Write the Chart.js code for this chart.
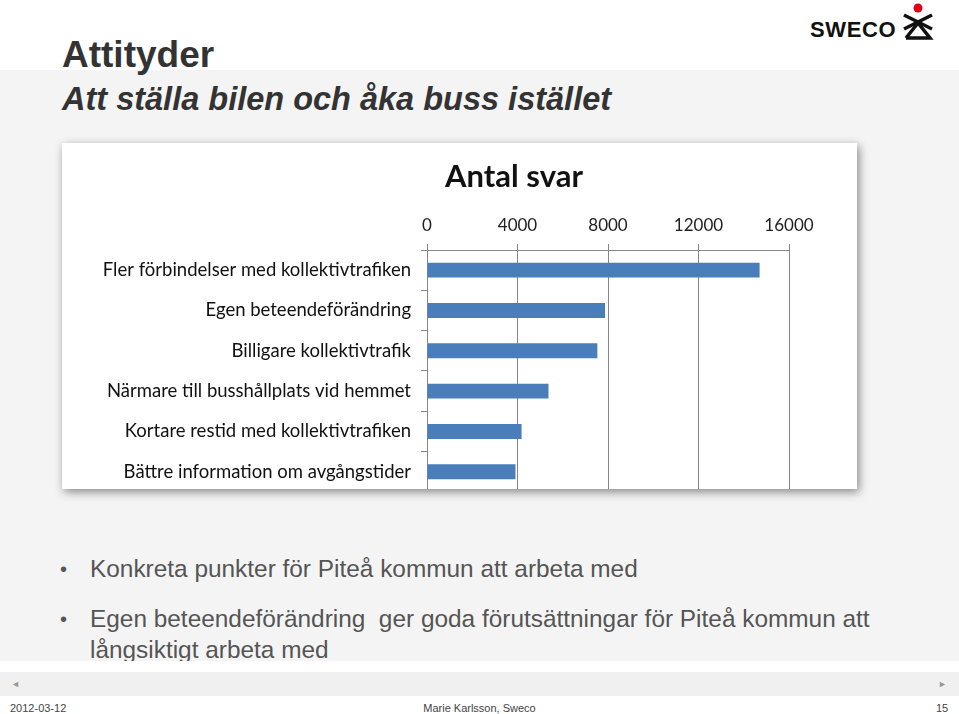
<!DOCTYPE html>
<html>
<head>
<meta charset="utf-8">
<script src="https://cdn.jsdelivr.net/npm/chart.js@4.4.1/dist/chart.umd.min.js"></script>
<style>
  html, body { margin: 0; padding: 0; }
  body { width: 959px; height: 714px; position: relative; overflow: hidden; background: #ffffff; font-family: "Liberation Sans", Arial, sans-serif; }
  .abs { position: absolute; white-space: nowrap; }
  #gray { left: 0; top: 70px; width: 959px; height: 591px; background: #f4f4f4; }
  #nav { left: 0; top: 672px; width: 959px; height: 24px; background: #f0f0f0; }
  #title { left: 62px; top: 36px; font-size: 37px; line-height: 37px; font-weight: bold; color: #333333; }
  #subtitle { left: 62px; top: 83px; font-size: 32.5px; line-height: 32px; font-weight: bold; font-style: italic; color: #333333; }
  #box { left: 62px; top: 143px; width: 795px; height: 346px; background: #ffffff; box-shadow: 2px 3px 9px rgba(0,0,0,0.45); overflow: hidden; }
  #box canvas { position: absolute; left: 0; top: 0; }
  #ctitle { left: 364px; top: 160px; width: 300px; text-align: center; font-family: Lato, sans-serif; font-weight: bold; font-size: 31px; line-height: 31px; color: #111111; }
  .bul { font-size: 24.4px; line-height: 24px; color: #555555; }
  .dot { font-size: 20px; line-height: 24px; color: #555555; }
  .foot { font-size: 11px; line-height: 11px; color: #444444; top: 703px; }
  .arrow { font-size: 9px; line-height: 9px; color: #999999; top: 680px; }
  #logo { left: 810px; top: 19px; font-size: 22px; line-height: 22px; font-weight: bold; color: #111111; letter-spacing: 0.6px; }
</style>
</head>
<body>
<div class="abs" id="gray"></div>
<div class="abs" id="title">Attityder</div>
<div class="abs" id="subtitle">Att ställa bilen och åka buss istället</div>
<div class="abs" id="logo">SWECO</div>
<svg class="abs" style="left:0;top:0" width="959" height="60">
  <circle cx="918" cy="8" r="4.5" fill="#e2001a"/>
  <line x1="904" y1="15" x2="932" y2="29" stroke="#111" stroke-width="3.5"/>
  <line x1="932" y1="15" x2="904" y2="29" stroke="#111" stroke-width="3.5"/>
  <polyline points="906,38 918,23 930,38 906,38" fill="none" stroke="#111" stroke-width="3.5" stroke-linejoin="miter"/>
</svg>
<div class="abs" id="box"><canvas id="c" width="795" height="370"></canvas></div>
<div class="abs" id="ctitle">Antal svar</div>
<div class="abs dot" style="left:60px;top:557px">•</div>
<div class="abs bul" style="left:90px;top:557px">Konkreta punkter för Piteå kommun att arbeta med</div>
<div class="abs dot" style="left:60px;top:607px">•</div>
<div class="abs bul" style="left:90px;top:607px">Egen beteendeförändring&nbsp; ger goda förutsättningar för Piteå kommun att</div>
<div class="abs bul" style="left:90px;top:638px">långsiktigt arbeta med</div>
<div class="abs" style="left:0;top:661px;width:959px;height:53px;background:#ffffff"></div>
<div class="abs" id="nav"></div>
<div class="abs arrow" style="left:11px">◄</div>
<div class="abs arrow" style="left:938px">►</div>
<div class="abs foot" style="left:10px">2012-03-12</div>
<div class="abs foot" style="left:0;width:959px;text-align:center">Marie Karlsson, Sweco</div>
<div class="abs foot" style="left:936px">15</div>

<script>
const categories = [
  "Fler förbindelser med kollektivtrafiken",
  "Egen beteendeförändring",
  "Billigare kollektivtrafik",
  "Närmare till busshållplats vid hemmet",
  "Kortare restid med kollektivtrafiken",
  "Bättre information om avgångstider"
];
const antalSvar = [14700, 7870, 7530, 5370, 4180, 3910];
const xTicks = [0, 4000, 8000, 12000, 16000];

const gridColor = "#868686";
new Chart(document.getElementById("c"), {
  type: "bar",
  data: {
    labels: categories,
    datasets: [{
      data: antalSvar,
      backgroundColor: "#4a7ebb",
      borderWidth: 0,
      barPercentage: 0.37,
      categoryPercentage: 1.0
    }]
  },
  options: {
    indexAxis: "y",
    responsive: false,
    animation: false,
    devicePixelRatio: 1,
    layout: { padding: { left: 0, right: 68, top: 50, bottom: 0 } },
    plugins: { legend: { display: false }, title: { display: false }, tooltip: { enabled: false } },
    scales: {
      x: {
        position: "top",
        min: 0,
        max: 16000,
        afterBuildTicks: (s) => { s.ticks = xTicks.map(v => ({ value: v })); },
        afterFit: (s) => { s.height = 57; },
        ticks: { font: { family: "Lato", size: 17 }, color: "#222222", padding: 8, maxRotation: 0, callback: (v) => String(v) },
        grid: { color: gridColor, lineWidth: 1, tickLength: 6, drawOnChartArea: true, drawTicks: true },
        border: { display: true, color: gridColor, width: 1 }
      },
      y: {
        afterFit: (s) => { s.width = 365; },
        ticks: { font: { family: "Lato", size: 18.5 }, color: "#111111", padding: 10 },
        grid: { color: gridColor, lineWidth: 1, tickLength: 6, drawOnChartArea: false, drawTicks: true, offset: true },
        border: { display: true, color: gridColor, width: 1 }
      }
    }
  }
});
</script>
</body>
</html>
